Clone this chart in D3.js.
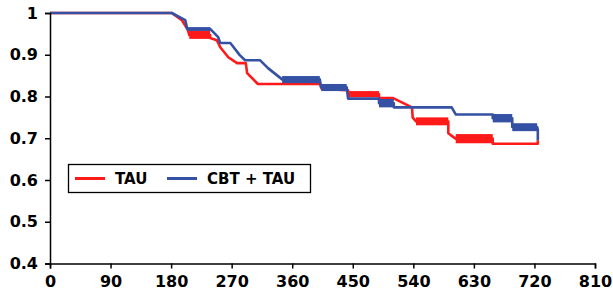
<!DOCTYPE html>
<html><head><meta charset="utf-8">
<script src="https://cdn.jsdelivr.net/npm/d3@7"></script>
<style>body{margin:0;background:#fff}svg{display:block}</style>
</head><body>
<svg id="c" width="613" height="297"></svg>
<script>
// ---- data ----
const xTicks = [0, 90, 180, 270, 360, 450, 540, 630, 720, 810];
const yTicks = [0.4, 0.5, 0.6, 0.7, 0.8, 0.9, 1];
const seriesNames = ["TAU", "CBT + TAU"];
// TAU curve (day, survival)
const tauDays = [0,181,196,205,207,238,238,248,253,265,278,291,293,309,401,404,443,444,489,489,510,538,539,544,592,592,596,603,658,658,725,725];
const tauVals = [1,1,0.983,0.959,0.947,0.947,0.940,0.935,0.918,0.894,0.880,0.880,0.856,0.830,0.830,0.818,0.815,0.805,0.805,0.796,0.796,0.774,0.750,0.740,0.740,0.712,0.707,0.699,0.699,0.687,0.687,0.695];
// TAU dense censor bands: start day, end day, upper, lower
const tauBandStart = [207,444,544,603];
const tauBandEnd   = [238,489,592,658];
const tauBandHigh  = [0.957,0.813,0.750,0.710];
const tauBandLow   = [0.938,0.798,0.731,0.688];
// CBT + TAU curve
const cbtDays = [0,181,201,204,238,250,253,268,282,290,312,324,345,401,403,441,443,489,489,511,511,597,603,658,658,687,687,724,725,725];
const cbtVals = [1,1,0.983,0.962,0.962,0.942,0.928,0.928,0.899,0.887,0.887,0.868,0.841,0.841,0.822,0.822,0.795,0.795,0.784,0.784,0.774,0.774,0.757,0.757,0.748,0.748,0.727,0.727,0.72,0.695];
const cbtBandStart = [205,345,403,489,658,687];
const cbtBandEnd   = [238,401,441,511,687,724];
const cbtBandHigh  = [0.966,0.849,0.830,0.794,0.758,0.736];
const cbtBandLow   = [0.957,0.832,0.813,0.774,0.738,0.717];

const colors = ["#ff1a1a", "#3551a4"];

// ---- chart ----
const svg = d3.select("#c");
const x = d3.scaleLinear().domain([0, 810]).range([50, 595]);
const y = d3.scaleLinear().domain([0.4, 1]).range([263.5, 13]);
const font = "'DejaVu Sans', Verdana, sans-serif";

const series = [
  {days: tauDays, vals: tauVals, bs: tauBandStart, be: tauBandEnd, bh: tauBandHigh, bl: tauBandLow, color: colors[0]},
  {days: cbtDays, vals: cbtVals, bs: cbtBandStart, be: cbtBandEnd, bh: cbtBandHigh, bl: cbtBandLow, color: colors[1]}
];
const line = d3.line().x(d => x(d[0])).y(d => y(d[1]));
series.forEach(s => {
  const pts = s.days.map((d, i) => [d, s.vals[i]]);
  svg.append("path").attr("d", line(pts)).attr("fill", "none")
    .attr("stroke", s.color).attr("stroke-width", 2.6).attr("stroke-linejoin", "round");
  svg.selectAll(null).data(s.bs).enter().append("rect")
    .attr("x", (d, i) => x(d)).attr("width", (d, i) => x(s.be[i]) - x(d))
    .attr("y", (d, i) => y(s.bh[i])).attr("height", (d, i) => y(s.bl[i]) - y(s.bh[i]))
    .attr("fill", s.color);
});

// axes
const xAxis = d3.axisBottom(x).tickValues(xTicks).tickSize(5).tickFormat(d3.format("d"));
const gx = svg.append("g").attr("transform", `translate(0,${y(0.4)})`).call(xAxis);
const yAxis = d3.axisLeft(y).tickValues(yTicks).tickSize(5).tickFormat(d => d === 1 ? "1" : d3.format(".1f")(d));
const gy = svg.append("g").attr("transform", `translate(${x(0)},0)`).call(yAxis);
[gx, gy].forEach(g => {
  g.select(".domain").attr("stroke", "#000").attr("stroke-width", 1.5);
  g.selectAll(".tick line").attr("stroke", "#000").attr("stroke-width", 1.5);
  g.selectAll("text").attr("fill", "#000").style("font-family", font)
    .style("font-weight", "bold").style("font-size", "16px");
});
gx.selectAll(".tick text").attr("dy", "1.05em").attr("y", 7);
gy.selectAll(".tick text").attr("x", -12);

// legend
const lg = svg.append("g");
lg.append("rect").attr("x", 68.5).attr("y", 164.5).attr("width", 242).attr("height", 28)
  .attr("fill", "#fff").attr("stroke", "#000").attr("stroke-width", 1.3);
const legX = [75, 167];
seriesNames.forEach((n, i) => {
  lg.append("line").attr("x1", legX[i]).attr("x2", legX[i] + 30).attr("y1", 178.5).attr("y2", 178.5)
    .attr("stroke", colors[i]).attr("stroke-width", 3);
  lg.append("text").attr("x", legX[i] + 40).attr("y", 184).text(n)
    .style("font-family", font).style("font-weight", "bold").style("font-size", "15px");
});
</script>
</body></html>
